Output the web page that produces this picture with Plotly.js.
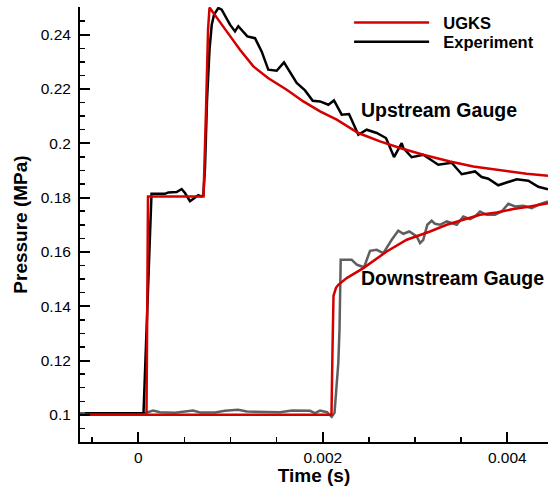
<!DOCTYPE html>
<html>
<head>
<meta charset="utf-8">
<script src="https://cdn.plot.ly/plotly-3.0.1.min.js"></script>
<style>
html,body{margin:0;padding:0;background:#fff;}
#chart{width:548px;height:486px;}
</style>
</head>
<body>
<div id="chart"></div>
<script>
// UGKS, upstream gauge
const ugksUpTime = [-0.000632, 0.0000889, 0.000105, 0.000707, 0.000734, 0.000756, 0.000772, 0.00085, 0.000958, 0.001102, 0.001247, 0.001406, 0.001609, 0.001789, 0.00197, 0.002151, 0.002385, 0.00262, 0.002837, 0.003089, 0.003379, 0.003631, 0.003921, 0.00421, 0.004441];
const ugksUpP = [0.1, 0.1, 0.18043, 0.18043, 0.21237, 0.24185, 0.2500, 0.24616, 0.24122, 0.23448, 0.22833, 0.22405, 0.21974, 0.21543, 0.21175, 0.20869, 0.20379, 0.20069, 0.19826, 0.19579, 0.19332, 0.19148, 0.19001, 0.18879, 0.18805];

// UGKS, downstream gauge
const ugksDownTime = [-0.000632, 0.002094, 0.002105, 0.002116, 0.002143, 0.002168, 0.002259, 0.002439, 0.002693, 0.00291, 0.003162, 0.003343, 0.003523, 0.003704, 0.003885, 0.004065, 0.004246, 0.004441];
const ugksDownP = [0.1, 0.1, 0.12395, 0.14384, 0.14679, 0.1479, 0.15036, 0.15405, 0.16016, 0.16448, 0.16753, 0.17, 0.17184, 0.17369, 0.17453, 0.17579, 0.17675, 0.17792];

// Experiment, upstream gauge
const expUpTime = [-0.000578, 0.0000564, 0.000143, 0.000289, 0.000325, 0.000416, 0.000470, 0.000506, 0.000560, 0.000615, 0.000650, 0.000680, 0.000705, 0.000723, 0.000745, 0.000772, 0.000796, 0.000821, 0.000867, 0.000904, 0.000994, 0.001048, 0.001084, 0.001182, 0.001265, 0.001338, 0.001409, 0.001500, 0.001579, 0.001717, 0.001807, 0.001891, 0.001970, 0.002060, 0.002121, 0.002205, 0.002284, 0.002385, 0.002476, 0.002584, 0.002685, 0.002772, 0.002855, 0.002873, 0.002964, 0.003089, 0.003252, 0.003397, 0.003506, 0.003650, 0.003722, 0.003794, 0.003902, 0.004102, 0.004228, 0.004336, 0.004441];
const expUpP = [0.1006, 0.1007, 0.1814, 0.1814, 0.1819, 0.18205, 0.18316, 0.18168, 0.17866, 0.18021, 0.18087, 0.18043, 0.18087, 0.1910, 0.21606, 0.23448, 0.24369, 0.24737, 0.24984, 0.24921, 0.24369, 0.24122, 0.24313, 0.23938, 0.23871, 0.23374, 0.22711, 0.22674, 0.2298, 0.22221, 0.21948, 0.21569, 0.21543, 0.21421, 0.2158, 0.21053, 0.21079, 0.20316, 0.205, 0.20379, 0.20195, 0.19494, 0.20003, 0.19826, 0.19487, 0.19579, 0.19211, 0.19284, 0.18861, 0.18964, 0.18758, 0.18695, 0.18455, 0.18677, 0.18621, 0.184, 0.18308];

// Experiment, downstream gauge
const expDownTime = [-0.000632, 0.0000726, 0.000159, 0.000235, 0.000398, 0.000593, 0.000669, 0.000831, 0.00094, 0.001081, 0.001178, 0.001536, 0.001666, 0.001861, 0.001915, 0.00197, 0.002046, 0.002096, 0.002127, 0.002168, 0.002181, 0.002194, 0.002313, 0.002371, 0.002447, 0.002512, 0.002584, 0.002656, 0.002747, 0.002818, 0.002873, 0.002938, 0.003018, 0.003054, 0.003089, 0.003133, 0.00318, 0.003216, 0.00327, 0.003343, 0.003452, 0.003523, 0.003596, 0.00365, 0.003704, 0.003777, 0.003867, 0.003939, 0.004011, 0.004083, 0.004173, 0.004264, 0.004336, 0.004441];
const expDownP = [0.10063, 0.10063, 0.10158, 0.10099, 0.10074, 0.10158, 0.10085, 0.10085, 0.10147, 0.10184, 0.10122, 0.10099, 0.10158, 0.10147, 0.10063, 0.10158, 0.10099, 0.09926, 0.10074, 0.11916, 0.13132, 0.15711, 0.15711, 0.15526, 0.15434, 0.16042, 0.16079, 0.15958, 0.16448, 0.16779, 0.16669, 0.16753, 0.16569, 0.16326, 0.16448, 0.17, 0.17148, 0.17037, 0.17, 0.17122, 0.17, 0.17306, 0.1721, 0.17306, 0.1749, 0.17369, 0.17369, 0.1749, 0.17774, 0.17675, 0.177, 0.17615, 0.17737, 0.17859];

const xTickVals = [0, 0.002, 0.004];
const xTickText = ['0', '0.002', '0.004'];
const yTickVals = [0.1, 0.12, 0.14, 0.16, 0.18, 0.2, 0.22, 0.24];
const yTickText = ['0.1', '0.12', '0.14', '0.16', '0.18', '0.2', '0.22', '0.24'];

const RED = 'rgb(212,0,0)';
const FONT = 'Arial, "Liberation Sans", sans-serif';
const NB = '\u00a0\u00a0';

const traces = [
  {x: expDownTime, y: expDownP, mode: 'lines', line: {color: 'rgb(95,95,95)', width: 2.5}, showlegend: false},
  {x: expUpTime, y: expUpP, mode: 'lines', name: NB + 'Experiment', line: {color: '#000', width: 2.5}, legend: 'legend2'},
  {x: ugksDownTime, y: ugksDownP, mode: 'lines', line: {color: RED, width: 2.5}, showlegend: false},
  {x: ugksUpTime, y: ugksUpP, mode: 'lines', name: NB + 'UGKS', line: {color: RED, width: 2.5}, legend: 'legend'}
];

const axisCommon = {
  showgrid: false, zeroline: false, showline: true, linecolor: '#000', linewidth: 2,
  ticks: 'inside', ticklen: 10, tickwidth: 2, tickcolor: '#000',
  tickfont: {family: FONT, size: 15.5, color: '#000'},
  mirror: false
};

const legendCommon = {
  xanchor: 'left', yanchor: 'top',
  bgcolor: 'rgba(0,0,0,0)', borderwidth: 0,
  font: {family: FONT, size: 16.5, color: '#000', weight: 'bold'},
  itemwidth: 75, tracegroupgap: 0, valign: 'middle'
};

const layout = {
  width: 548, height: 486,
  margin: {l: 80, r: 0, t: 7, b: 44, pad: 0},
  paper_bgcolor: '#fff', plot_bgcolor: '#fff',
  font: {family: FONT, color: '#000'},
  showlegend: true,
  legend: Object.assign({}, legendCommon, {x: 0.575, y: 1.0037}),
  legend2: Object.assign({}, legendCommon, {x: 0.575, y: 0.9600}),
  xaxis: Object.assign({}, axisCommon, {
    range: [-0.000632, 0.004441],
    tickmode: 'array', tickvals: xTickVals, ticktext: xTickText,
    minor: {dtick: 0.0005, tick0: 0, ticks: 'inside', ticklen: 5, tickwidth: 1.5, tickcolor: '#000', showgrid: false},
    title: {text: '<b>Time (s)</b>', font: {family: FONT, size: 19, color: '#000'}, standoff: 0}
  }),
  yaxis: Object.assign({}, axisCommon, {
    range: [0.09, 0.2502],
    tickmode: 'array', tickvals: yTickVals, ticktext: yTickText,
    minor: {dtick: 0.005, tick0: 0.1, ticks: 'inside', ticklen: 5, tickwidth: 1.5, tickcolor: '#000', showgrid: false},
    ticklabelstandoff: 4,
    title: {text: '<b>Pressure (MPa)</b>', font: {family: FONT, size: 19, color: '#000'}, standoff: 8}
  }),
  annotations: [
    {x: 0.00239, y: 0.21237, xref: 'x', yref: 'y', xanchor: 'left', yanchor: 'middle', showarrow: false,
     text: '<b>Upstream Gauge</b>', font: {family: FONT, size: 19.5, color: '#000'}},
    {x: 0.00239, y: 0.15047, xref: 'x', yref: 'y', xanchor: 'left', yanchor: 'middle', showarrow: false,
     text: '<b>Downstream Gauge</b>', font: {family: FONT, size: 19.5, color: '#000'}}
  ]
};

Plotly.newPlot('chart', traces, layout, {staticPlot: true, displayModeBar: false});
</script>
</body>
</html>
